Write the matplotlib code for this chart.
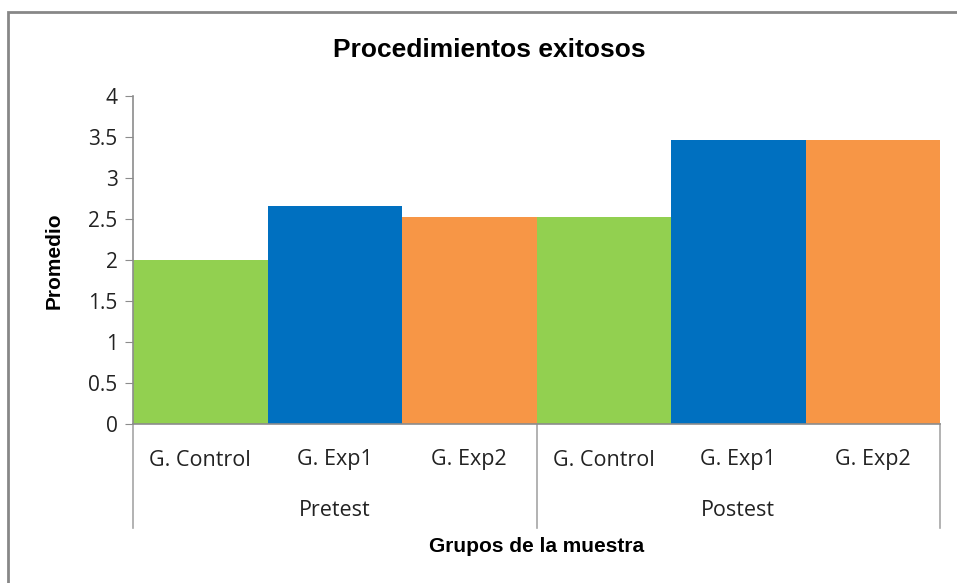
import matplotlib.pyplot as plt
from matplotlib.patches import Rectangle

grupos = ['G. Control', 'G. Exp1', 'G. Exp2', 'G. Control', 'G. Exp1', 'G. Exp2']
fases = ['Pretest', 'Postest']
promedios = [2.0, 2.66, 2.52, 2.52, 3.46, 3.46]
colores = ['#92d050', '#0070c0', '#f79646', '#92d050', '#0070c0', '#f79646']

W, H = 957, 583
fig = plt.figure(figsize=(W / 100, H / 100), dpi=100)

# borde del grafico
fig.patches.append(Rectangle((8 / W, -0.1), 1.2, (H - 12) / H + 0.1, transform=fig.transFigure,
                             fill=False, edgecolor='#878787', linewidth=2))

ax = fig.add_axes([133 / W, (H - 424) / H, 807 / W, 328 / H])
x = list(range(len(grupos)))
ax.bar(x, promedios, width=1.0, color=colores, edgecolor='none')
ax.set_xlim(-0.5, 5.5)
ax.set_ylim(0, 4)
ax.set_yticks([0, 0.5, 1, 1.5, 2, 2.5, 3, 3.5, 4])
ax.set_yticklabels(['0', '0.5', '1', '1.5', '2', '2.5', '3', '3.5', '4'])
ax.tick_params(axis='y', direction='out', length=6, color='#8c8c8c', labelsize=15,
               labelcolor='#222222', pad=5)
ax.set_xticks([])
for s in ['top', 'right']:
    ax.spines[s].set_visible(False)
for s in ['left', 'bottom']:
    ax.spines[s].set_color('#8c8c8c')
    ax.spines[s].set_linewidth(1.2)

fuente = 'Open Sans'
for t in ax.get_yticklabels():
    t.set_fontfamily(fuente)

# etiquetas de categorias
for i, g in enumerate(grupos):
    ax.text(i, -36 / 328, g, transform=ax.get_xaxis_transform(), ha='center', va='center',
            fontsize=15.5, fontfamily=fuente, color='#222222')
for j, f in enumerate(fases):
    ax.text(j * 3 + 1, -86 / 328, f, transform=ax.get_xaxis_transform(), ha='center', va='center',
            fontsize=15.5, fontfamily=fuente, color='#222222')
for xs in [-0.5, 2.5, 5.5]:
    ax.plot([xs, xs], [0, -104 / 328], transform=ax.get_xaxis_transform(), color='#a6a6a6',
            linewidth=1.2, clip_on=False)

fig.text(489 / W, 1 - 50 / H, 'Procedimientos exitosos', ha='center', va='center',
         fontsize=19, fontweight='bold', fontfamily='Liberation Sans')
fig.text(0.5 * (133 + 940) / W, 1 - 546 / H, 'Grupos de la muestra', ha='center', va='center',
         fontsize=15, fontweight='bold', fontfamily='Liberation Sans')
fig.text(54 / W, 1 - 261 / H, 'Promedio', ha='center', va='center', rotation=90,
         fontsize=15, fontweight='bold', fontfamily='Liberation Sans')

fig.savefig('out.png', dpi=100)
